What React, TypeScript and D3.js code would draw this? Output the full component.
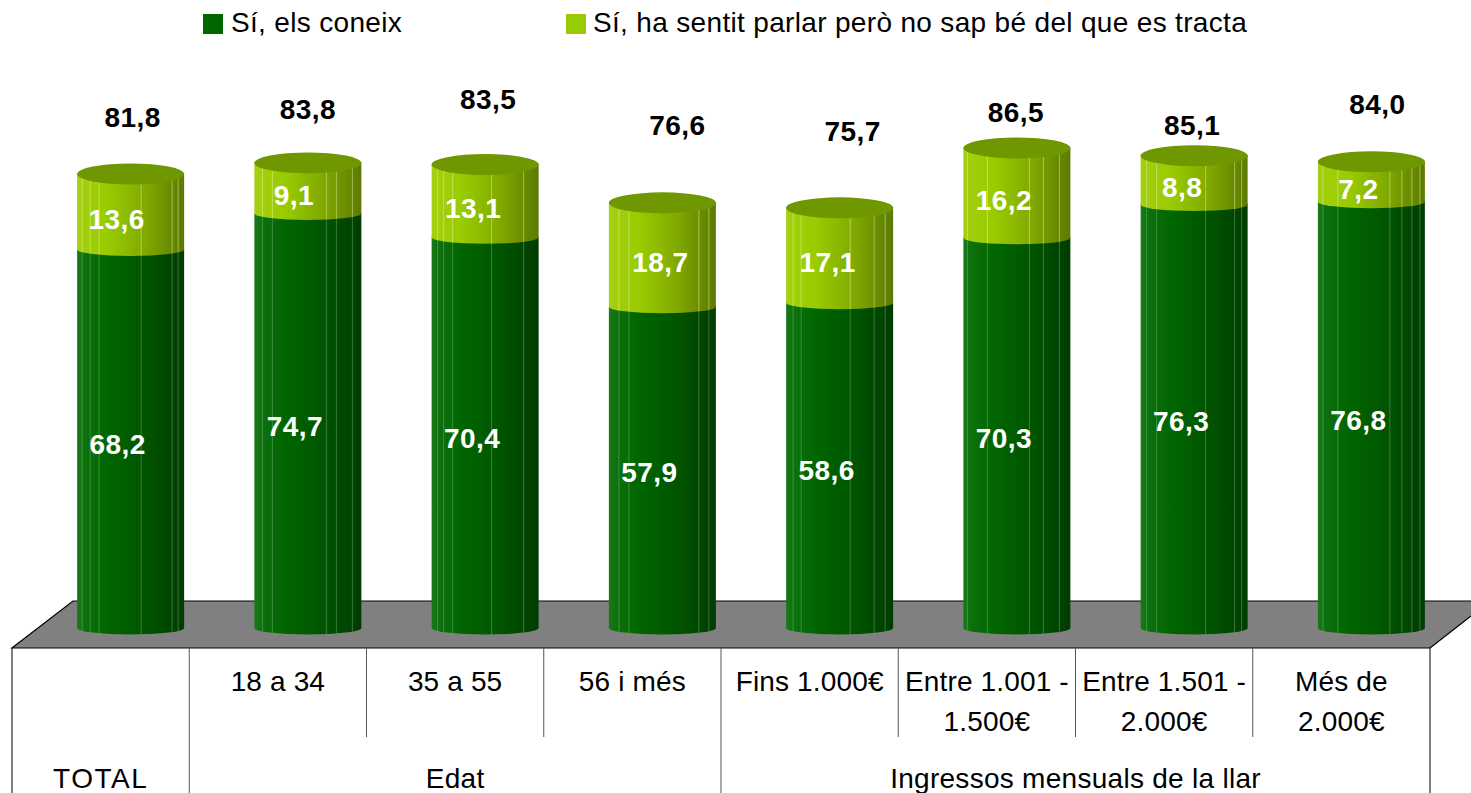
import React from "react";
import * as d3 from "d3";

const groups = ["TOTAL", "18 a 34", "35 a 55", "56 i més", "Fins 1.000€", "Entre 1.001 -|1.500€", "Entre 1.501 -|2.000€", "Més de|2.000€"];
const knowsThem = [68.2, 74.7, 70.4, 57.9, 58.6, 70.3, 76.3, 76.8];
const heardOf = [13.6, 9.1, 13.1, 18.7, 17.1, 16.2, 8.8, 7.2];
const totals = [81.8, 83.8, 83.5, 76.6, 75.7, 86.5, 85.1, 84.0];
const seriesNames = ["Sí, els coneix", "Sí, ha sentit parlar però no sap bé del que es tracta"];
const parentGroups = [
  { label: "TOTAL", from: 0, to: 1 },
  { label: "Edat", from: 1, to: 4 },
  { label: "Ingressos mensuals de la llar", from: 4, to: 8 },
];

// layout only
const W = 1471, H = 793;
const RX = 53.5, RY_TOP = 10.5, RY = 6.5;
const DEPTH = 30;
const totalDx = [2, 0, 3, 15, 13, -1, -2, 6];
const totalY = [127, 119, 109, 135, 141, 122, 135, 114];
const upperDx = [-14, -14, -12, -2, -12, -13, -12, -13];
const facetLines = [
  [5, 13, 22, 64, 95, 101],
  [8, 18, 72, 82, 98],
  [6, 12, 21, 60, 92],
  [10, 20, 90, 100],
  [7, 15, 64, 88, 99],
  [4, 24, 66, 80, 96],
  [6, 16, 65, 94, 101],
  [5, 20, 72, 84, 94, 102],
];

const fmt = (v: number) => v.toFixed(1).replace(".", ",");
const FONT = "'Liberation Sans', Arial, sans-serif";

export default function App() {
  const x = d3.scaleBand<number>().domain(d3.range(groups.length)).range([12, 1430]).paddingInner(0).paddingOuter(0);
  const y = d3.scaleLinear().domain([0, 100]).range([628, 73]);
  const stacked = d3.stack<number>().keys(["a", "b"]).value((i, k) => (k === "a" ? knowsThem[i] : heardOf[i]))(d3.range(groups.length));

  const cyl = (cx: number, y0: number, y1: number) =>
    `M${cx - RX},${y1} L${cx - RX},${y0} A${RX},${RY} 0 0 0 ${cx + RX},${y0} L${cx + RX},${y1} A${RX},${RY} 0 0 0 ${cx - RX},${y1} Z`;
  const sag = (o: number) => RY * Math.sqrt(Math.max(0, 1 - ((o - RX) / RX) ** 2));

  const cx = (i: number) => x(i)! + x.bandwidth() / 2 + DEPTH;
  const edges = d3.range(groups.length + 1).map((i) => 12 + i * x.bandwidth());

  return (
    <svg width={W} height={H} style={{ position: "absolute", left: 0, top: 0, display: "block", background: "#fff" }} fontFamily={FONT}>
      <defs>
        <linearGradient id="dark" x1="0" x2="1" y1="0" y2="0">
          <stop offset="0" stopColor="#187a18" />
          <stop offset="0.08" stopColor="#0c700c" />
          <stop offset="0.28" stopColor="#006600" />
          <stop offset="0.65" stopColor="#005400" />
          <stop offset="1" stopColor="#003c00" />
        </linearGradient>
        <linearGradient id="light" x1="0" x2="1" y1="0" y2="0">
          <stop offset="0" stopColor="#a4d010" />
          <stop offset="0.28" stopColor="#99cc00" />
          <stop offset="0.65" stopColor="#7fa800" />
          <stop offset="1" stopColor="#5c7a00" />
        </linearGradient>
      </defs>

      <polygon points={`12,648 73,601 ${W},601 ${W},616 1430,648`} fill="#808080" />
      <polyline points={`1430,648 12,648 73,601 ${W},601`} fill="none" stroke="#000" strokeWidth={1.2} />
      <line x1={1430} x2={W} y1={648} y2={616} stroke="#000" strokeWidth={1.2} />

      {d3.range(groups.length).map((i) => {
        const c = cx(i);
        const y0 = y(0), y1 = y(stacked[0][i][1]), y2 = y(stacked[1][i][1]);
        return (
          <g key={i}>
            <path d={cyl(c, y0, y1)} fill="url(#dark)" />
            {facetLines[i].map((o) => (
              <line key={o} x1={c - RX + o} x2={c - RX + o} y1={y1 + sag(o)} y2={y0 + sag(o)} stroke="#8fc08f" strokeOpacity={0.4} strokeWidth={1} />
            ))}
            <path d={cyl(c, y1, y2)} fill="url(#light)" />
            {facetLines[i].map((o) => (
              <line key={o} x1={c - RX + o} x2={c - RX + o} y1={y2 + sag(o)} y2={y1 + sag(o)} stroke="#e4f2a8" strokeOpacity={0.5} strokeWidth={1} />
            ))}
            <ellipse cx={c} cy={y2} rx={RX} ry={RY_TOP} fill="#6f9700" />
          </g>
        );
      })}

      {/* data labels */}
      {d3.range(groups.length).map((i) => {
        const c = cx(i);
        return (
          <g key={i} fontSize={28} fontWeight="bold" textAnchor="middle" letterSpacing={0.4}>
            <text x={c - 13} y={y((stacked[0][i][0] + stacked[0][i][1]) / 2) + 15} fill="#fff">{fmt(knowsThem[i])}</text>
            <text x={c + upperDx[i]} y={y((stacked[1][i][0] + stacked[1][i][1]) / 2) + 17} fill="#fff">{fmt(heardOf[i])}</text>
            <text x={c + totalDx[i]} y={totalY[i]} fill="#000">{fmt(totals[i])}</text>
          </g>
        );
      })}

      {/* table under the floor */}
      {edges.map((ex, i) => {
        const full = parentGroups.some((g) => edges[g.from] === ex || edges[g.to] === ex);
        return <line key={i} x1={ex} x2={ex} y1={648} y2={full ? H : 737} stroke={i === 0 || i === 8 ? "#000" : "#555"} strokeWidth={1} />;
      })}

      {groups.map((g, i) =>
        i === 0 ? null : g.split("|").map((ln, k) => (
          <text key={k} x={x(i)! + x.bandwidth() / 2} y={691 + k * 40} fontSize={28} textAnchor="middle" fill="#000" letterSpacing={0.15}>{ln}</text>
        ))
      )}
      {parentGroups.map((g) => (
        <text key={g.label} x={(edges[g.from] + edges[g.to]) / 2} y={788} fontSize={28} textAnchor="middle" fill="#000" letterSpacing={g.label === "TOTAL" ? 1.5 : 0.28}>{g.label}</text>
      ))}

      {/* legend */}
      <rect x={203} y={14} width={20} height={20} fill="#006600" />
      <text x={231} y={32} fontSize={28} letterSpacing={0.33}>{seriesNames[0]}</text>
      <rect x={566} y={14} width={20} height={20} fill="#99cc00" />
      <text x={593} y={32} fontSize={28} letterSpacing={0.33}>{seriesNames[1]}</text>
    </svg>
  );
}
